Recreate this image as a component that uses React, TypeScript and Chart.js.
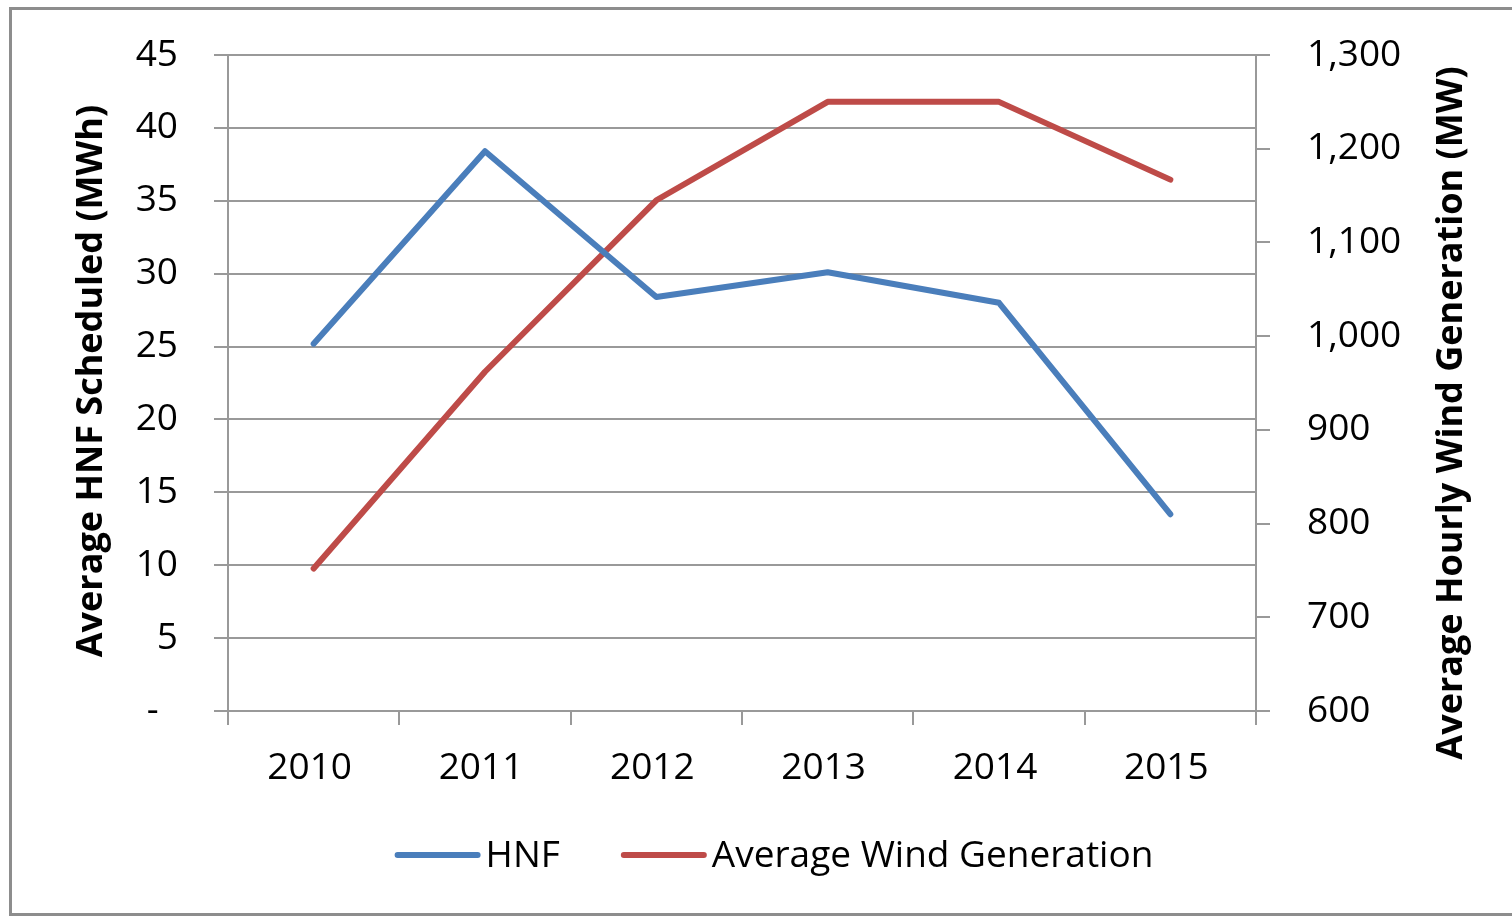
import React, { useEffect, useRef } from 'react';
import { Chart, registerables } from 'chart.js';

Chart.register(...registerables);

// ---- Data ----
const categories = ['2010', '2011', '2012', '2013', '2014', '2015'];
const hnfValues = [25.2, 38.4, 28.4, 30.1, 28.0, 13.5];
const windValues = [752, 962, 1145, 1250, 1250, 1167];
const seriesLabels = ['HNF', 'Average Wind Generation'];
const axisTitles = ['Average HNF Scheduled (MWh)', 'Average Hourly Wind Generation (MW)'];
const hnfAxis = [0, 45, 5]; // min, max, step
const windAxis = [600, 1300, 100];

const FONT = '"Open Sans", "DejaVu Sans", sans-serif';
const GRID = '#999999';
const BLUE = '#4a7ebb';
const RED = '#be4b48';

const overlayPlugin = {
  id: 'overlay',
  afterDraw(chart: any) {
    const ctx = chart.ctx as CanvasRenderingContext2D;
    const ca = chart.chartArea;
    const midY = (ca.top + ca.bottom) / 2;
    ctx.save();
    ctx.fillStyle = '#000';
    ctx.font = `bold 36px ${FONT}`;
    ctx.textAlign = 'center';
    ctx.textBaseline = 'alphabetic';
    ctx.save();
    ctx.translate(102, midY - 2);
    ctx.rotate(-Math.PI / 2);
    ctx.fillText(axisTitles[0], 0, 0);
    ctx.restore();
    ctx.save();
    ctx.translate(1462, midY + 30);
    ctx.rotate(-Math.PI / 2);
    ctx.fillText(axisTitles[1], 0, 0);
    ctx.restore();

    // legend
    ctx.font = `37px ${FONT}`;
    ctx.textAlign = 'left';
    const sampleW = 86;
    const gapText = 5;
    const gapItem = 61;
    const items = chart.data.datasets.map((d: any) => ({
      label: d.label,
      color: d.borderColor,
      w: sampleW + gapText + ctx.measureText(d.label).width,
    }));
    const total = items.reduce((s: number, it: any) => s + it.w, 0) + gapItem * (items.length - 1);
    let x = 774 - total / 2;
    const ly = 855;
    items.forEach((it: any) => {
      ctx.strokeStyle = it.color;
      ctx.lineWidth = 6;
      ctx.lineCap = 'round';
      ctx.beginPath();
      ctx.moveTo(x + 3, ly);
      ctx.lineTo(x + sampleW - 3, ly);
      ctx.stroke();
      ctx.fillText(it.label, x + sampleW + gapText, 867);
      x += it.w + gapItem;
    });
    ctx.restore();
  },
};

const fixVertical = (w: number) => (s: any) => {
  s.width = w;
  s.paddingTop = 0;
  s.paddingBottom = 0;
};

export default function App() {
  const canvasRef = useRef<HTMLCanvasElement | null>(null);

  useEffect(() => {
    if (!canvasRef.current) return;
    Chart.defaults.font.family = FONT;
    const chart = new Chart(canvasRef.current, {
      type: 'line',
      data: {
        labels: categories,
        datasets: [
          {
            label: seriesLabels[0],
            data: hnfValues,
            yAxisID: 'y',
            borderColor: BLUE,
            backgroundColor: BLUE,
            borderWidth: 6,
            pointRadius: 0,
            borderCapStyle: 'round',
            borderJoinStyle: 'round',
            tension: 0,
          },
          {
            label: seriesLabels[1],
            data: windValues,
            yAxisID: 'y1',
            borderColor: RED,
            backgroundColor: RED,
            borderWidth: 6,
            pointRadius: 0,
            borderCapStyle: 'round',
            borderJoinStyle: 'round',
            tension: 0,
          },
        ],
      },
      options: {
        responsive: false,
        animation: false,
        layout: { padding: { top: 55, left: 0, right: 0, bottom: 0 } },
        plugins: { legend: { display: false }, tooltip: { enabled: false } },
        scales: {
          x: {
            type: 'category',
            offset: true,
            grid: { offset: true, drawOnChartArea: false, drawTicks: true, tickLength: 14, color: GRID, lineWidth: 2 },
            border: { display: true, color: GRID, width: 2 },
            ticks: { color: '#000', font: { size: 37 }, padding: 21, labelOffset: -4, maxRotation: 0, autoSkip: false },
            afterFit: (s: any) => { s.height = 206; s.paddingLeft = 0; s.paddingRight = 0; },
          },
          y: {
            position: 'left',
            min: hnfAxis[0],
            max: hnfAxis[1],
            ticks: {
              stepSize: hnfAxis[2],
              padding: 36,
              color: '#000',
              font: { size: 37 },
              callback: (v: any) => (Number(v) === 0 ? '-  ' : String(v)),
            },
            grid: { color: GRID, lineWidth: 2, tickLength: 14, drawTicks: true },
            border: { display: true, color: GRID, width: 2 },
            afterFit: fixVertical(228),
          },
          y1: {
            position: 'right',
            min: windAxis[0],
            max: windAxis[1],
            ticks: {
              stepSize: windAxis[2],
              padding: 37,
              color: '#000',
              font: { size: 37 },
              callback: (v: any) => Number(v).toLocaleString('en-US'),
            },
            grid: { drawOnChartArea: false, tickLength: 14, color: GRID, lineWidth: 2 },
            border: { display: true, color: GRID, width: 2 },
            afterFit: fixVertical(256),
          },
        },
      } as any,
      plugins: [overlayPlugin],
    });
    return () => chart.destroy();
  }, []);

  return (
    <div style={{ position: 'fixed', left: 0, top: 0, width: 1512, height: 917, overflow: 'hidden', background: '#fff' }}>
      <canvas ref={canvasRef} width={1512} height={917} style={{ position: 'absolute', left: 0, top: 0 }} />
      <div
        style={{
          position: 'absolute',
          left: 9,
          top: 7,
          width: 1600,
          height: 909,
          border: '3px solid #8d8d8d',
          boxSizing: 'border-box',
          pointerEvents: 'none',
        }}
      />
    </div>
  );
}
